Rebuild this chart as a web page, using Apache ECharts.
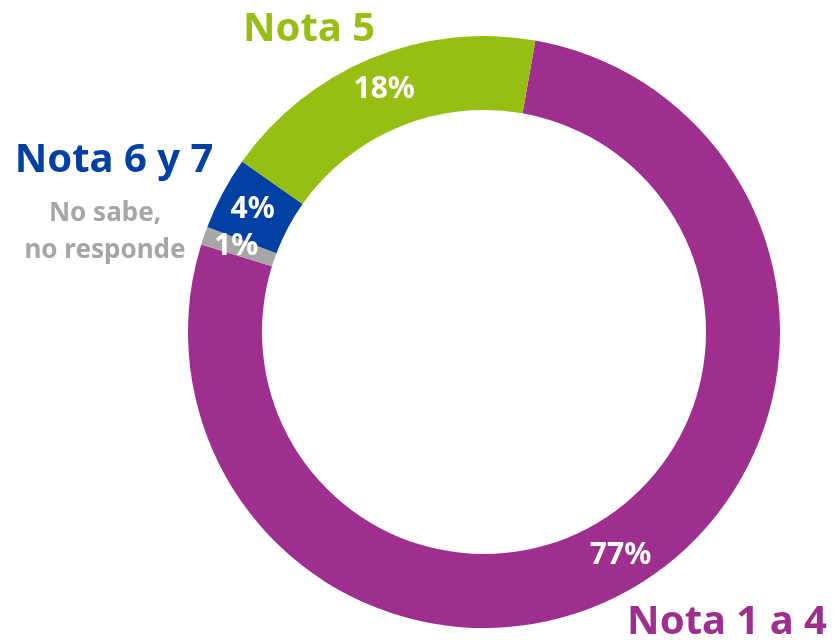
<!DOCTYPE html>
<html>
<head>
<meta charset="utf-8">
<script src="https://cdn.jsdelivr.net/npm/echarts@6/dist/echarts.min.js"></script>
<style>
  html, body { margin: 0; padding: 0; background: #fff; }
  #main { width: 835px; height: 640px; }
</style>
</head>
<body>
<div id="main"></div>
<script>
// categories in drawing order (clockwise from the top)
const categories = ['Nota 1 a 4', 'No sabe, no responde', 'Nota 6 y 7', 'Nota 5']
const values = [77, 1, 4, 18]
const colors = ['#9F2F8E', '#A6A6A6', '#0041A3', '#97BE12']
const nameLines = [['Nota 1 a 4'], ['No sabe,', 'no responde'], ['Nota 6 y 7'], ['Nota 5']]

const font = '"Noto Sans", sans-serif'

// 外部名称标签
const nameGraphics = [
  { i: 3, x: 309, y: 30, size: 40 },
  { i: 2, x: 114, y: 161, size: 40 },
  { i: 1, x: 105, y: 232, size: 26, lh: 37 },
  { i: 0, x: 727, y: 623, size: 40 }
].map(function (g) {
  return {
    type: 'text',
    x: g.x,
    y: g.y,
    style: {
      text: nameLines[g.i].join('\n'),
      fill: colors[g.i],
      font: 'bold ' + g.size + 'px ' + font,
      lineHeight: g.lh || g.size,
      align: 'center',
      verticalAlign: 'middle'
    }
  }
})

const myChart = echarts.init(document.getElementById('main'))
const option = {
  animation: false,
  backgroundColor: '#fff',
  graphic: nameGraphics,
  series: [
    {
      type: 'pie',
      center: [484, 332],
      radius: [222, 296],
      startAngle: 80,
      clockwise: true,
      avoidLabelOverlap: false,
      itemStyle: { borderWidth: 0 },
      label: {
        show: true,
        position: 'inside',
        formatter: '{c}%',
        color: '#fff',
        fontFamily: font,
        fontWeight: 'bold',
        fontSize: 30,
        textBorderWidth: 0
      },
      labelLine: { show: false },
      emphasis: { disabled: true },
      data: categories.map(function (c, i) {
        return { name: c, value: values[i], itemStyle: { color: colors[i] } }
      })
    }
  ]
}

myChart.setOption(option)
</script>
</body>
</html>
